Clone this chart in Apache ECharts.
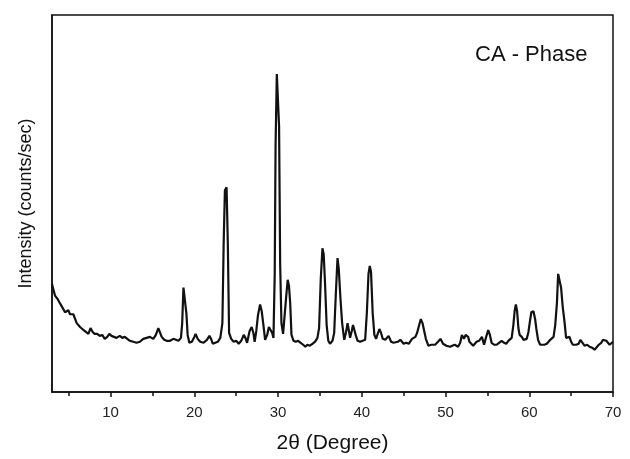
<!DOCTYPE html>
<html>
  <head>
    <meta charset="utf-8">
    <title></title>
    <style media="screen">
    html, body {margin:0; padding:0; background:#fff}
    .box {width:630px; height:459px}
    </style>
    <script src="https://cdn.jsdelivr.net/npm/echarts@6/dist/echarts.min.js" charset="utf-8"></script>
    <script>
    // 2θ positions (degree) and intensity (arbitrary units)
    const twoTheta=[
      3.0,3.1,3.36,3.7,3.96,4.3,4.55,4.95,5.15,5.35,5.55,5.95,6.35,6.75,7.05,7.35,7.6,7.85,8.1,8.4,
      8.7,9.0,9.3,9.6,9.85,10.1,10.3,10.7,11.1,11.4,11.7,12.0,12.3,12.7,13.1,13.5,13.9,14.3,14.7,14.9,
      15.1,15.4,15.7,15.9,16.1,16.4,16.7,17.1,17.5,17.8,18.1,18.4,18.55,18.7,18.9,19.05,19.2,19.4,19.7,20.0,
      20.15,20.4,20.7,21.1,21.5,21.8,22.0,22.2,22.5,22.8,23.1,23.35,23.5,23.65,23.85,24.0,24.15,24.4,24.7,25.0,
      25.3,25.6,25.9,26.1,26.3,26.6,26.85,27.05,27.2,27.4,27.6,27.85,28.05,28.25,28.45,28.7,28.9,29.1,29.3,29.45,
      29.6,29.7,29.85,30.0,30.12,30.25,30.4,30.6,30.8,31.0,31.15,31.3,31.45,31.6,31.85,32.1,32.4,32.7,33.0,33.25,
      33.5,33.8,34.1,34.4,34.7,34.9,35.1,35.3,35.45,35.6,35.8,36.0,36.2,36.5,36.7,36.9,37.1,37.25,37.45,37.65,
      37.9,38.1,38.3,38.45,38.6,38.8,38.95,39.1,39.3,39.5,39.8,40.1,40.4,40.6,40.8,40.95,41.1,41.3,41.5,41.7,
      41.9,42.1,42.3,42.5,42.8,43.2,43.5,43.8,44.0,44.3,44.6,45.0,45.3,45.6,46.0,46.2,46.4,46.6,46.85,47.05,
      47.25,47.45,47.65,47.95,48.3,48.75,49.1,49.4,49.7,50.1,50.55,50.8,51.1,51.5,51.75,51.95,52.1,52.2,52.4,52.55,
      52.7,52.85,53.3,53.7,54.0,54.35,54.6,54.85,55.1,55.3,55.5,55.8,56.1,56.4,56.7,57.0,57.25,57.5,57.7,57.9,
      58.1,58.25,58.4,58.55,58.7,58.85,59.1,59.3,59.5,59.7,59.9,60.1,60.25,60.5,60.7,60.85,61.05,61.3,61.5,61.8,
      62.1,62.5,62.9,63.1,63.3,63.45,63.6,63.8,64.0,64.2,64.4,64.6,64.8,65.0,65.2,65.6,65.9,66.1,66.3,66.6,
      66.9,67.2,67.5,67.8,68.0,68.3,68.6,68.8,69.0,69.2,69.4,69.6,69.8,70.0
    ];
    const intensity=[
      110,106,98,94,90,85,81,83,79,78,79,70,66,63,61,59,65,61,59,59,
      57,58,54,56,59,57,56,55,57,55,56,54,52,51,50,51,54,55,56,58,
      54,58,65,63,56,53,52,52,54,53,52,55,70,106,105,80,58,50,51,56,
      59,54,51,50,53,57,54,49,50,51,55,70,150,205,208,150,60,54,51,52,
      49,52,58,55,50,62,66,60,51,62,78,89,82,68,53,58,66,65,60,55,
      120,250,323,325,270,130,70,59,58,100,114,108,90,58,52,51,52,50,48,46,
      48,47,49,51,55,65,115,146,140,112,68,52,49,52,60,100,136,125,95,70,
      53,60,70,68,55,62,68,66,57,52,51,52,53,80,120,128,122,80,58,54,
      59,64,60,54,53,57,51,50,49,51,53,49,50,49,54,53,56,60,68,74,
      70,62,54,47,48,48,51,54,49,47,46,47,48,46,50,58,56,54,58,60,
      56,51,47,51,52,56,48,56,63,58,50,48,48,50,52,50,49,52,54,55,
      68,82,89,82,65,58,56,53,51,54,61,73,81,82,74,64,53,48,47,48,
      49,53,56,68,90,120,118,106,86,72,55,53,56,51,48,48,49,53,51,47,
      48,46,45,43,45,48,50,53,52,52,50,48,50,51
    ];
    const majorTicks=[10,20,30,40,50,60,70];
    const minorTicks=[5,15,25,35,45,55,65];

    const font='"Liberation Sans", Arial, sans-serif';

    window.onload=function (){
      let chart=echarts.init(document.querySelector('.box'), null, {renderer: 'canvas'});

      let option={
        animation: false,
        title: {
          text: 'CA - Phase',
          left: 470,
          top: 39,
          textStyle: {fontFamily: font, fontSize: 22, fontWeight: 'normal', color: '#111'}
        },
        grid: {
          left: 52, right: 17, top: 15, bottom: 61,
          show: true, borderColor: '#111', borderWidth: 1.5
        },
        xAxis: [
          {
            type: 'value', min: 3, max: 70,
            name: '2θ (Degree)',
            nameLocation: 'middle',
            nameGap: 41,
            nameTextStyle: {fontFamily: font, fontSize: 21, color: '#111'},
            axisLine: {show: true, lineStyle: {color: '#111', width: 1.5}},
            axisTick: {show: true, inside: false, length: 5, customValues: majorTicks, lineStyle: {color: '#111', width: 1.5}},
            axisLabel: {customValues: majorTicks, margin: 13, fontFamily: font, fontSize: 15, color: '#222'},
            splitLine: {show: false}
          },
          {
            type: 'value', min: 3, max: 70,
            position: 'bottom',
            axisLine: {show: false},
            axisTick: {show: true, inside: false, length: 4, customValues: minorTicks, lineStyle: {color: '#111', width: 1.5}},
            axisLabel: {show: false},
            splitLine: {show: false}
          }
        ],
        yAxis: {
          type: 'value', min: 0, max: 383,
          name: 'Intensity (counts/sec)',
          nameLocation: 'middle',
          nameGap: 17,
          nameTextStyle: {fontFamily: font, fontSize: 18, color: '#111'},
          axisLine: {show: true, lineStyle: {color: '#111', width: 1.5}},
          axisTick: {show: false},
          axisLabel: {show: false},
          splitLine: {show: false}
        },
        series: [
          {
            name: 'CA - Phase',
            type: 'line',
            xAxisIndex: 0,
            symbol: 'none',
            lineStyle: {color: '#111', width: 2.2},
            data: twoTheta.map((t, i)=>[t, intensity[i]])
          }
        ]
      };

      chart.setOption(option);
    };
    </script>
  </head>
  <body>
    <div class="box"></div>
  </body>
</html>
